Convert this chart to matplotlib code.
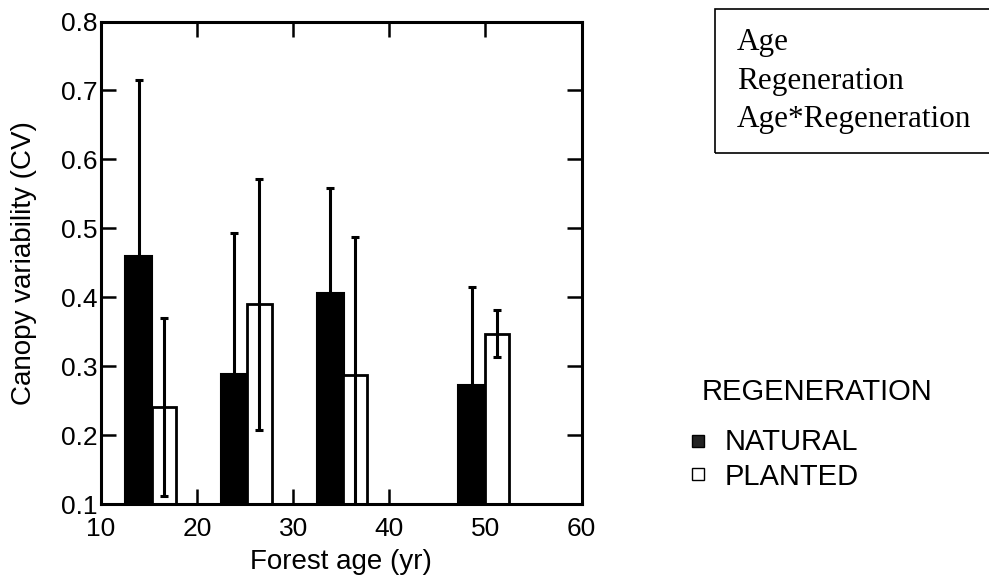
import matplotlib
matplotlib.use('Agg')
import matplotlib.pyplot as plt
from matplotlib.patches import Rectangle
from matplotlib.lines import Line2D

plt.rcParams['font.family'] = ['Liberation Sans', 'DejaVu Sans']

# bar positions (forest age, yr) and values
natural_x = [13.95, 23.85, 33.85, 48.6]
natural_cv = [0.46, 0.289, 0.406, 0.272]
natural_err = [0.255, 0.204, 0.152, 0.143]

planted_x = [16.6, 26.5, 36.45, 51.25]
planted_cv = [0.241, 0.39, 0.287, 0.347]
planted_err = [0.129, 0.182, 0.201, 0.034]

xticks = [10, 20, 30, 40, 50, 60]
yticks = [0.1, 0.2, 0.3, 0.4, 0.5, 0.6, 0.7, 0.8]
box_lines = ['Age', 'Regeneration', 'Age*Regeneration']

fig = plt.figure(figsize=(9.89, 5.82), dpi=100)
ax = fig.add_axes([0.102, 0.134, 0.486, 0.829])

ax.bar(natural_x, natural_cv, width=2.8, color='black', edgecolor='black', linewidth=1.5)
ax.bar(planted_x, planted_cv, width=2.5, color='white', edgecolor='black', linewidth=2)
ax.errorbar(natural_x, natural_cv, yerr=natural_err, fmt='none', ecolor='black',
            elinewidth=2.2, capsize=3, capthick=2.2)
ax.errorbar(planted_x, planted_cv, yerr=planted_err, fmt='none', ecolor='black',
            elinewidth=2.2, capsize=3, capthick=2.2)

ax.set_xlim(10, 60)
ax.set_ylim(0.1, 0.8)
ax.set_xticks(xticks)
ax.set_yticks(yticks)
ax.set_yticklabels(['%.1f' % v for v in yticks])
ax.set_axisbelow(True)
ax.tick_params(direction='in', length=11, width=1.8, top=True, right=True,
               labelsize=19)
ax.tick_params(axis='y', pad=2.5)
ax.tick_params(axis='x', pad=9)
for s in ax.spines.values():
    s.set_linewidth(2.2)

ax.set_xlabel('Forest age (yr)', fontsize=20, labelpad=6)
ax.set_ylabel('Canopy variability (CV)', fontsize=20, labelpad=17)

# statistics box at top right (runs off the right edge)
fig.patches.append(Rectangle((0.723, 0.737), 0.3, 0.248, transform=fig.transFigure,
                             fill=False, edgecolor='black', linewidth=1.2, clip_on=False))
for i, t in enumerate(box_lines):
    fig.text(0.745, 1 - (50 + 38.5 * i) / 582, t, family='Liberation Serif',
             fontsize=22.5, va='baseline', ha='left')

# legend
fig.text(702 / 989, 1 - 400 / 582, 'REGENERATION', fontsize=21, va='baseline')
fig.text(725 / 989, 1 - 450 / 582, 'NATURAL', fontsize=21, va='baseline')
fig.text(725 / 989, 1 - 485 / 582, 'PLANTED', fontsize=21, va='baseline')
fig.add_artist(Line2D([698 / 989], [1 - 441 / 582], marker='s', markersize=9,
                      color='black', markerfacecolor='#222222', transform=fig.transFigure))
fig.add_artist(Line2D([698 / 989], [1 - 474 / 582], marker='s', markersize=9,
                      color='black', markerfacecolor='white', markeredgewidth=1,
                      transform=fig.transFigure))

fig.savefig('out.png', dpi=100)
